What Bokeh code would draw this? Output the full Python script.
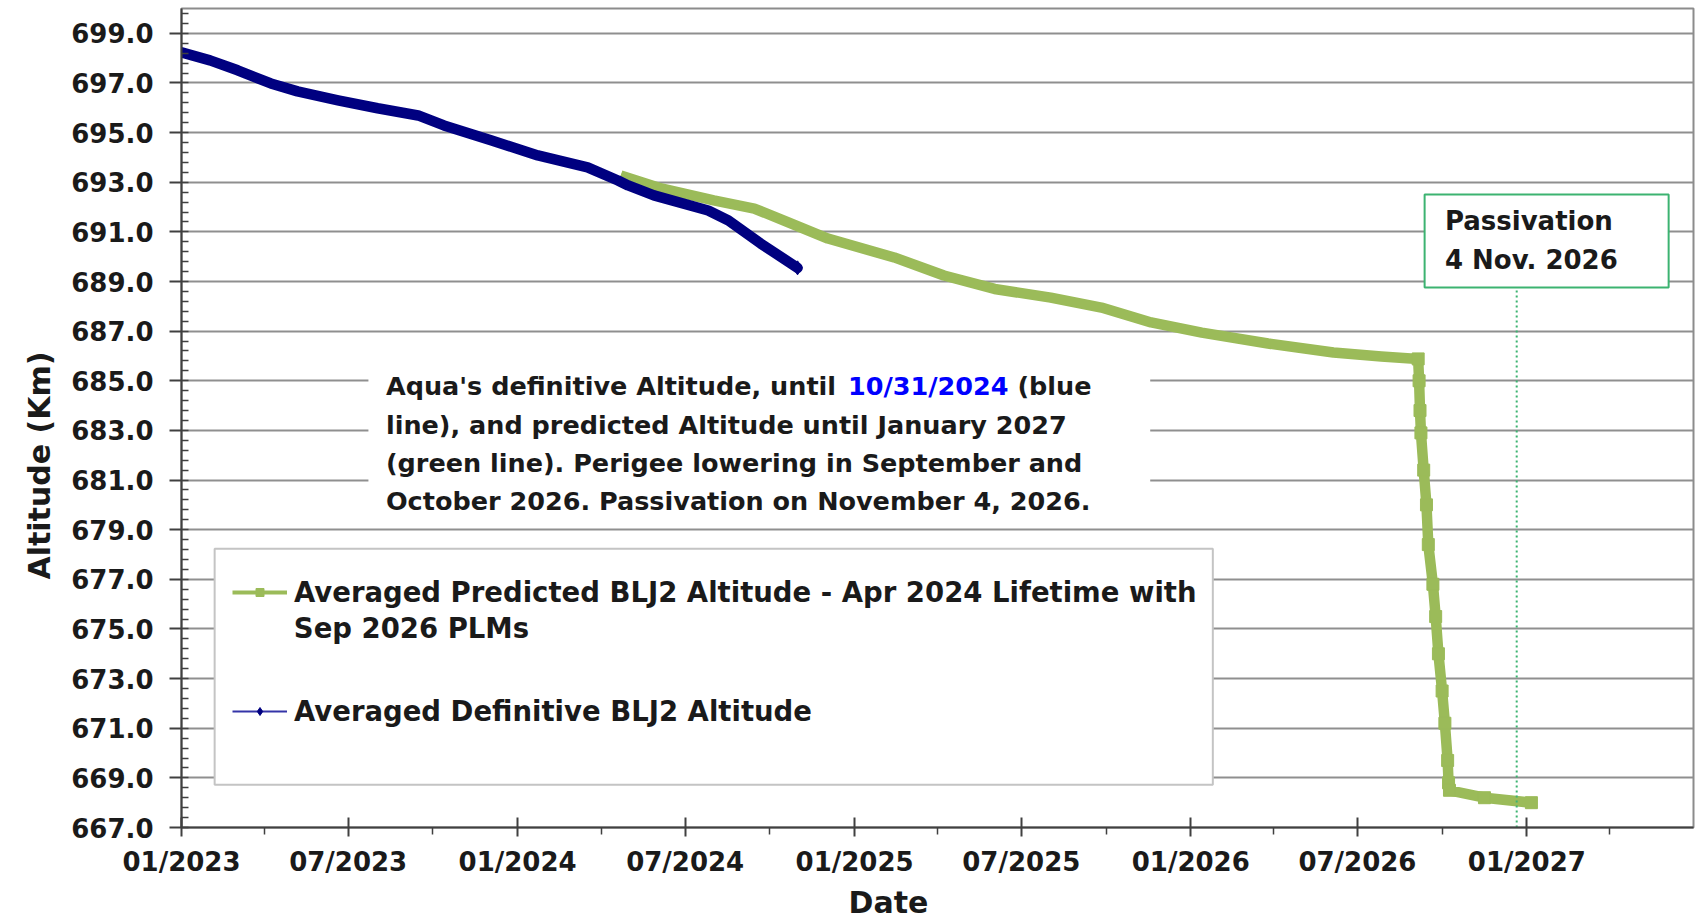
import pandas as pd
from bokeh.plotting import figure
from bokeh.models import (Range1d, FixedTicker, NumeralTickFormatter, DatetimeTickFormatter,
                          Label, BoxAnnotation, Legend, LegendItem, Title)
from bokeh.embed import file_html
from bokeh.resources import INLINE


def ms(s):
    return pd.Timestamp(s).value / 1e6


# ---------------- data ----------------
def_dates = ["2023-01-01", "2023-02-01", "2023-03-03", "2023-04-08", "2023-05-07", "2023-06-20",
             "2023-08-02", "2023-09-15", "2023-10-13", "2023-12-03", "2024-01-23", "2024-03-17",
             "2024-04-19", "2024-04-30", "2024-05-28", "2024-07-26", "2024-08-17", "2024-09-21",
             "2024-10-31"]
def_alt = [698.23, 697.91, 697.51, 696.98, 696.66, 696.30,
           695.98, 695.69, 695.29, 694.69, 694.08, 693.60,
           693.07, 692.87, 692.47, 691.86, 691.46, 690.53,
           689.55]

pred_dates = ["2024-04-22", "2024-06-05", "2024-08-01", "2024-09-14", "2024-10-21", "2024-12-03",
              "2025-02-13", "2025-04-08", "2025-06-02", "2025-08-02", "2025-09-26", "2025-10-23",
              "2025-11-19", "2026-01-13", "2026-03-26", "2026-06-05", "2026-07-27", "2026-09-05",
              "2026-09-06", "2026-09-07", "2026-09-08", "2026-09-11", "2026-09-14", "2026-09-16",
              "2026-09-21", "2026-09-24", "2026-09-27", "2026-10-01", "2026-10-04", "2026-10-07",
              "2026-10-08", "2026-10-09", "2026-11-16", "2027-01-06"]
pred_alt = [693.27, 692.75, 692.27, 691.94, 691.38, 690.73,
            689.97, 689.24, 688.70, 688.35, 687.95, 687.65,
            687.35, 686.94, 686.50, 686.14, 685.98, 685.88,
            685.00, 683.80, 682.90, 681.40, 680.00, 678.40,
            676.80, 675.50, 674.00, 672.50, 671.20, 669.70,
            668.80, 668.50, 668.20, 668.00]

lowering_start = "2026-09-05"
passivation_date = "2026-12-21"

x_major = ["2023-01-01", "2023-07-01", "2024-01-01", "2024-07-01", "2025-01-01",
           "2025-07-01", "2026-01-01", "2026-07-01", "2027-01-01"]
x_minor = ["2023-04-01", "2023-10-01", "2024-04-01", "2024-10-01", "2025-04-01",
           "2025-10-01", "2026-04-01", "2026-10-01", "2027-04-01"]
y_major = [667, 669, 671, 673, 675, 677, 679, 681, 683, 685, 687, 689, 691, 693, 695, 697, 699]
y_minor = [round(667 + 0.4 * i, 1) for i in range(0, 83)]

legend_labels = ["Averaged Predicted BLJ2 Altitude - Apr 2024 Lifetime with",
                 "Averaged Definitive BLJ2 Altitude"]
legend_cont = "Sep 2026 PLMs"
note_lines = ["line), and predicted Altitude until January 2027",
              "(green line). Perigee lowering in September and",
              "October 2026. Passivation on November 4, 2026."]

GREEN = "#9BBB59"
NAVY = "#000080"
PASS_GREEN = "#3CB371"
GRID = "#8f8f8f"
AXIS = "#404040"
TXT = "#1a1a1a"
FONT = "DejaVu Sans"

# ---------------- figure ----------------
p = figure(width=1696, height=922, x_axis_type="datetime",
           x_range=Range1d(ms("2023-01-01"), ms("2027-07-01")),
           y_range=Range1d(667, 700),
           output_backend="svg", toolbar_location=None,
           min_border_left=181, min_border_right=3, min_border_top=8, min_border_bottom=95,
           background_fill_color="white", border_fill_color="white")

p.outline_line_color = "#8c8c8c"
p.outline_line_width = 2
p.xgrid.visible = False
p.ygrid.grid_line_color = GRID
p.ygrid.grid_line_width = 2

p.yaxis.ticker = FixedTicker(ticks=y_major, minor_ticks=y_minor)
p.yaxis.formatter = NumeralTickFormatter(format="0.0")
p.xaxis.ticker = FixedTicker(ticks=[ms(d) for d in x_major], minor_ticks=[ms(d) for d in x_minor])
p.xaxis.formatter = DatetimeTickFormatter(days="%m/%Y", months="%m/%Y", years="%m/%Y")

for ax in (p.xaxis, p.yaxis):
    ax.axis_line_color = AXIS
    ax.axis_line_width = 2
    ax.major_tick_line_color = AXIS
    ax.major_tick_line_width = 2
    ax.minor_tick_line_color = AXIS
    ax.minor_tick_line_width = 1.5
    ax.major_label_text_font = FONT
    ax.major_label_text_font_style = "bold"
    ax.major_label_text_font_size = "26px"
    ax.major_label_text_color = TXT

p.yaxis.major_tick_out = 12
p.yaxis.major_tick_in = 0
p.yaxis.minor_tick_in = 7
p.yaxis.minor_tick_out = 0
p.yaxis.major_label_standoff = 16
p.xaxis.major_tick_in = 10
p.xaxis.major_tick_out = 9
p.xaxis.minor_tick_in = 0
p.xaxis.minor_tick_out = 7
p.xaxis.major_label_standoff = 10

# axis titles
p.add_layout(Title(text="Altitude (Km)", align="left", offset=248, vertical_align="middle",
                   text_font=FONT, text_font_style="bold", text_font_size="30px",
                   text_color=TXT, standoff=22), "left")
p.add_layout(Title(text="Date", align="left", offset=667, vertical_align="bottom",
                   text_font=FONT, text_font_style="bold", text_font_size="30px",
                   text_color=TXT, standoff=6), "below")

# ---------------- series ----------------
px = [ms(d) for d in pred_dates]
dx = [ms(d) for d in def_dates]
cut = ms(lowering_start)
px_low = [x for x in px if x >= cut]
pa_low = [a for x, a in zip(px, pred_alt) if x >= cut]

# legend glyph proxies: drawn first on the same data, hidden beneath the main lines
lg_g_line = p.line(px, pred_alt, line_width=4, color=GREEN)
lg_g_mark = p.scatter(px_low, pa_low, marker="square", size=10, color=GREEN)
lg_b_line = p.line(dx, def_alt, line_width=2, color="#3434a8")
lg_b_mark = p.scatter(dx[-1:], def_alt[-1:], marker="diamond", size=14, color=NAVY)

p.line(px, pred_alt, line_width=10.5, color=GREEN, line_join="round")
p.scatter(px_low, pa_low, marker="square", size=12, color=GREEN)
p.line(dx, def_alt, line_width=10.5, color=NAVY, line_join="round", line_cap="round")

# passivation marker line and box
pass_x = ms(passivation_date)
box_pass = dict(left=ms("2026-09-12"), right=ms("2027-06-04"), top=692.51, bottom=688.76)
p.segment(x0=[pass_x], y0=[667], x1=[pass_x], y1=[box_pass["bottom"]],
          line_color=PASS_GREEN, line_width=2, line_dash="2 3")
p.add_layout(BoxAnnotation(left=box_pass["left"], right=box_pass["right"], top=box_pass["top"],
                           bottom=box_pass["bottom"], fill_color="white", fill_alpha=1,
                           line_color=PASS_GREEN, line_width=2, line_alpha=1))
for txt, yy in (("Passivation", 691.42), ("4 Nov. 2026", 689.85)):
    p.add_layout(Label(x=ms("2026-10-04"), y=yy, text=txt, text_font=FONT, text_font_style="bold",
                       text_font_size="26px", text_baseline="middle", text_align="left",
                       text_color=TXT))

# explanatory note
p.add_layout(BoxAnnotation(left=ms("2023-07-23"), right=ms("2025-11-18"), top=685.41, bottom=679.56,
                           fill_color="white", fill_alpha=1, line_alpha=0))
NOTE_FS = 25.5
note_x = ms("2023-08-11")
note_y = [684.77, 683.23, 681.70, 680.17]
note_style = dict(text_font=FONT, text_font_style="bold", text_font_size=f"{NOTE_FS}px",
                  text_baseline="middle", text_align="left")
p.add_layout(Label(x=note_x, y=note_y[0], text="Aqua's definitive Altitude, until",
                   text_color=TXT, **note_style))
p.add_layout(Label(x=note_x, y=note_y[0], x_offset=18.118 * NOTE_FS, text="10/31/2024",
                   text_color="#0000FF", **note_style))
p.add_layout(Label(x=note_x, y=note_y[0], x_offset=24.764 * NOTE_FS, text="(blue",
                   text_color=TXT, **note_style))
for txt, yy in zip(note_lines, note_y[1:]):
    p.add_layout(Label(x=note_x, y=yy, text=txt, text_color=TXT, **note_style))

# legend
p.add_layout(BoxAnnotation(left=ms("2023-02-06"), right=ms("2026-01-25"), top=678.23, bottom=668.72,
                           fill_color="white", fill_alpha=1, line_color="#c4c4c4", line_width=2,
                           line_alpha=1))
legend = Legend(items=[LegendItem(label=legend_labels[0], renderers=[lg_g_line, lg_g_mark]),
                       LegendItem(label=legend_labels[1], renderers=[lg_b_line, lg_b_mark])],
                location=(51, 100), margin=0, padding=0, spacing=87,
                glyph_width=55, glyph_height=20, label_standoff=7,
                label_text_font=FONT, label_text_font_style="bold", label_text_font_size="27.5px",
                label_text_color=TXT,
                border_line_alpha=0, background_fill_alpha=0)
p.add_layout(legend)
p.add_layout(Label(x=ms("2023-05-03"), y=675.05, text=legend_cont, text_font=FONT,
                   text_font_style="bold", text_font_size="27.5px", text_baseline="middle",
                   text_align="left", text_color=TXT))

open("out.html", "w").write(file_html(p, INLINE))
